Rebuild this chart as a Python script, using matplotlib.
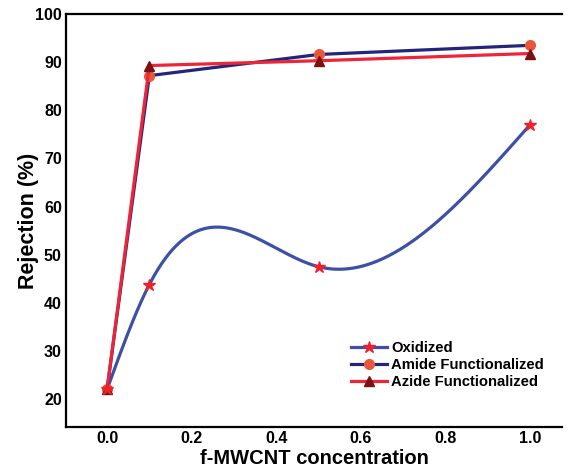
import numpy as np
import matplotlib.pyplot as plt

plt.rcParams['font.family'] = ['Liberation Sans', 'DejaVu Sans']

# data
conc = [0.0, 0.1, 0.5, 1.0]
oxidized = [22.0, 43.8, 47.5, 77.0]
amide = [22.0, 87.2, 91.6, 93.5]
azide = [22.0, 89.3, 90.3, 91.8]
xticks = [0.0, 0.2, 0.4, 0.6, 0.8, 1.0]
yticks = [20, 30, 40, 50, 60, 70, 80, 90, 100]


def natural_spline(x, y, n=300):
    # natural cubic spline for the smoothed line
    x = np.asarray(x, float)
    y = np.asarray(y, float)
    h = np.diff(x)
    k = len(x)
    A = np.zeros((k, k))
    r = np.zeros(k)
    A[0, 0] = A[-1, -1] = 1
    for i in range(1, k - 1):
        A[i, i - 1] = h[i - 1]
        A[i, i] = 2 * (h[i - 1] + h[i])
        A[i, i + 1] = h[i]
        r[i] = 6 * ((y[i + 1] - y[i]) / h[i] - (y[i] - y[i - 1]) / h[i - 1])
    M = np.linalg.solve(A, r)
    xs = np.linspace(x[0], x[-1], n)
    idx = np.clip(np.searchsorted(x, xs) - 1, 0, k - 2)
    x0, x1 = x[idx], x[idx + 1]
    hh = x1 - x0
    ys = (M[idx] * (x1 - xs) ** 3 / (6 * hh) + M[idx + 1] * (xs - x0) ** 3 / (6 * hh)
          + (y[idx] / hh - M[idx] * hh / 6) * (x1 - xs)
          + (y[idx + 1] / hh - M[idx + 1] * hh / 6) * (xs - x0))
    return xs, ys


fig = plt.figure(figsize=(5.71, 4.73), dpi=100)
ax = fig.add_axes([0.1156, 0.0973, 0.8690, 0.8730])

xs, ys = natural_spline(conc, oxidized)
ax.plot(xs, ys, color='#3d50a8', lw=2.3, zorder=2)
ax.plot(conc, oxidized, ls='none', marker='*', ms=9, color='#f0202a', zorder=3)
ax.plot([], [], color='#3d50a8', lw=2.3, marker='*', ms=9, mfc='#f0202a', mec='#f0202a', label='Oxidized')

ax.plot(conc, amide, color='#24257a', lw=2.3, marker='o', ms=7,
        mfc='#e8573c', mec='#e8573c', label='Amide Functionalized', zorder=2)
ax.plot(conc, azide, color='#ee2538', lw=2.3, marker='^', ms=7.5,
        mfc='#7a1212', mec='#7a1212', label='Azide Functionalized', zorder=2)

ax.set_xlim(-0.097, 1.076)
ax.set_ylim(14.2, 100)
ax.set_xticks(xticks)
ax.set_xticklabels(['%.1f' % t for t in xticks])
ax.set_yticks(yticks)
ax.tick_params(length=0, labelsize=11.5, pad=3)
for lab in ax.get_xticklabels() + ax.get_yticklabels():
    lab.set_fontweight('bold')

ax.spines['right'].set_visible(False)
for s in ['left', 'bottom', 'top']:
    ax.spines[s].set_linewidth(1.6)

ax.set_xlabel('f-MWCNT concentration', fontsize=14.5, fontweight='bold', labelpad=2)
ax.set_ylabel('Rejection (%)', fontsize=15.5, fontweight='bold', labelpad=-3)

leg = ax.legend(loc='lower right', bbox_to_anchor=(0.99, 0.06), frameon=False,
                handlelength=2.4, handletextpad=0.3, labelspacing=0.2,
                prop={'weight': 'bold', 'size': 10.7})

fig.savefig('out.png', dpi=100)
